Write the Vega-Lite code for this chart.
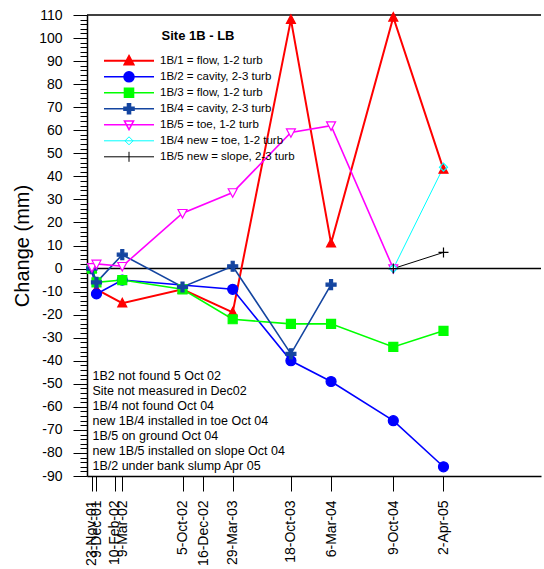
{
  "$schema": "https://vega.github.io/schema/vega-lite/v6.json",
  "width": 454,
  "height": 461,
  "padding": {"left": 12, "top": 8, "right": 0, "bottom": 0},
  "config": {
    "view": {"stroke": null},
    "font": "Liberation Sans",
    "axis": {"grid": false, "labelOverlap": false, "labelBound": false, "labelFlush": false, "tickColor": "black", "domainColor": "black", "domainWidth": 1.5, "labelColor": "black", "titleColor": "black"}
  },
  "datasets": {
    "obs": [
      {"series": "1B/1 = flow, 1-2 turb", "date": "2001-11-23", "change": 0},
      {"series": "1B/1 = flow, 1-2 turb", "date": "2001-12-09", "change": -9},
      {"series": "1B/1 = flow, 1-2 turb", "date": "2002-03-09", "change": -15},
      {"series": "1B/1 = flow, 1-2 turb", "date": "2002-10-05", "change": -9},
      {"series": "1B/1 = flow, 1-2 turb", "date": "2003-03-29", "change": -19},
      {"series": "1B/1 = flow, 1-2 turb", "date": "2003-10-18", "change": 108},
      {"series": "1B/1 = flow, 1-2 turb", "date": "2004-03-06", "change": 11},
      {"series": "1B/1 = flow, 1-2 turb", "date": "2004-10-09", "change": 109},
      {"series": "1B/1 = flow, 1-2 turb", "date": "2005-04-02", "change": 43},
      {"series": "1B/2 = cavity, 2-3 turb", "date": "2001-11-23", "change": 0},
      {"series": "1B/2 = cavity, 2-3 turb", "date": "2001-12-09", "change": -11},
      {"series": "1B/2 = cavity, 2-3 turb", "date": "2002-03-09", "change": -5},
      {"series": "1B/2 = cavity, 2-3 turb", "date": "2003-03-29", "change": -9},
      {"series": "1B/2 = cavity, 2-3 turb", "date": "2003-10-18", "change": -40},
      {"series": "1B/2 = cavity, 2-3 turb", "date": "2004-03-06", "change": -49},
      {"series": "1B/2 = cavity, 2-3 turb", "date": "2004-10-09", "change": -66},
      {"series": "1B/2 = cavity, 2-3 turb", "date": "2005-04-02", "change": -86},
      {"series": "1B/3 = flow, 1-2 turb", "date": "2001-11-23", "change": 0},
      {"series": "1B/3 = flow, 1-2 turb", "date": "2001-12-09", "change": -6},
      {"series": "1B/3 = flow, 1-2 turb", "date": "2002-03-09", "change": -5},
      {"series": "1B/3 = flow, 1-2 turb", "date": "2002-10-05", "change": -9},
      {"series": "1B/3 = flow, 1-2 turb", "date": "2003-03-29", "change": -22},
      {"series": "1B/3 = flow, 1-2 turb", "date": "2003-10-18", "change": -24},
      {"series": "1B/3 = flow, 1-2 turb", "date": "2004-03-06", "change": -24},
      {"series": "1B/3 = flow, 1-2 turb", "date": "2004-10-09", "change": -34},
      {"series": "1B/3 = flow, 1-2 turb", "date": "2005-04-02", "change": -27},
      {"series": "1B/4 = cavity, 2-3 turb", "date": "2001-11-23", "change": 0},
      {"series": "1B/4 = cavity, 2-3 turb", "date": "2001-12-09", "change": -6},
      {"series": "1B/4 = cavity, 2-3 turb", "date": "2002-03-09", "change": 6},
      {"series": "1B/4 = cavity, 2-3 turb", "date": "2002-10-05", "change": -8},
      {"series": "1B/4 = cavity, 2-3 turb", "date": "2003-03-29", "change": 1},
      {"series": "1B/4 = cavity, 2-3 turb", "date": "2003-10-18", "change": -37},
      {"series": "1B/4 = cavity, 2-3 turb", "date": "2004-03-06", "change": -7},
      {"series": "1B/5 = toe, 1-2 turb", "date": "2001-11-23", "change": 0.5},
      {"series": "1B/5 = toe, 1-2 turb", "date": "2001-12-09", "change": 2},
      {"series": "1B/5 = toe, 1-2 turb", "date": "2002-03-09", "change": 1},
      {"series": "1B/5 = toe, 1-2 turb", "date": "2002-10-05", "change": 24},
      {"series": "1B/5 = toe, 1-2 turb", "date": "2003-03-29", "change": 33},
      {"series": "1B/5 = toe, 1-2 turb", "date": "2003-10-18", "change": 59},
      {"series": "1B/5 = toe, 1-2 turb", "date": "2004-03-06", "change": 62},
      {"series": "1B/5 = toe, 1-2 turb", "date": "2004-10-09", "change": 0},
      {"series": "1B/4 new = toe, 1-2 turb", "date": "2004-10-09", "change": 0},
      {"series": "1B/4 new = toe, 1-2 turb", "date": "2005-04-02", "change": 44},
      {"series": "1B/5 new = slope, 2-3 turb", "date": "2004-10-09", "change": 0},
      {"series": "1B/5 new = slope, 2-3 turb", "date": "2005-04-02", "change": 7}
    ]
  },
  "layer": [
    {
      "data": {"values": [{}]},
      "mark": {"type": "rule", "color": "black", "strokeWidth": 1.5},
      "encoding": {"y": {"datum": 110, "type": "quantitative", "scale": {"domain": [-90, 110], "nice": false, "zero": false},
        "axis": {"title": "Change (mm)", "titleFontSize": 20, "titleFontWeight": "normal", "titlePadding": 6, "tickCount": 100, "labelExpr": "datum.value % 10 === 0 ? '' + datum.value : ''", "labelFontSize": 14, "labelPadding": 11, "tickSize": {"condition": {"test": "datum.value % 10 === 0", "value": 14}, "value": 7}}}}
    },
    {
      "data": {"values": [{}]},
      "mark": {"type": "rule", "color": "black", "strokeWidth": 1.5},
      "encoding": {"y": {"datum": 0, "type": "quantitative", "scale": {"domain": [-90, 110], "nice": false, "zero": false},
        "axis": {"title": "Change (mm)", "titleFontSize": 20, "titleFontWeight": "normal", "titlePadding": 6, "tickCount": 100, "labelExpr": "datum.value % 10 === 0 ? '' + datum.value : ''", "labelFontSize": 14, "labelPadding": 11, "tickSize": {"condition": {"test": "datum.value % 10 === 0", "value": 14}, "value": 7}}}}
    },
    {
      "data": {"values": [{}]},
      "mark": {"type": "text", "align": "left", "baseline": "top", "fontSize": 12.5, "lineHeight": 15, "color": "black"},
      "encoding": {
        "x": {"datum": {"year": 2001, "month": 11, "date": 25, "utc": true}, "type": "temporal",
          "scale": {"type": "utc", "domain": [{"year": 2001, "month": 11, "date": 6, "utc": true}, {"year": 2006, "month": 3, "date": 8, "utc": true}]},
          "axis": {
            "title": null,
            "values": [
              {"year": 2001, "month": 11, "date": 23, "utc": true},
              {"year": 2001, "month": 12, "date": 9, "utc": true},
              {"year": 2002, "month": 2, "date": 10, "utc": true},
              {"year": 2002, "month": 3, "date": 9, "utc": true},
              {"year": 2002, "month": 10, "date": 5, "utc": true},
              {"year": 2002, "month": 12, "date": 16, "utc": true},
              {"year": 2003, "month": 3, "date": 29, "utc": true},
              {"year": 2003, "month": 10, "date": 18, "utc": true},
              {"year": 2004, "month": 3, "date": 6, "utc": true},
              {"year": 2004, "month": 10, "date": 9, "utc": true},
              {"year": 2005, "month": 4, "date": 2, "utc": true}
            ],
            "format": "%-d-%b-%y", "labelAngle": -90, "labelFontSize": 14, "labelPadding": 9, "tickSize": 15
          }},
        "y": {"datum": -44.2, "type": "quantitative", "scale": {"domain": [-90, 110], "nice": false, "zero": false},
          "axis": {"title": "Change (mm)", "titleFontSize": 20, "titleFontWeight": "normal", "titlePadding": 6, "tickCount": 100, "labelExpr": "datum.value % 10 === 0 ? '' + datum.value : ''", "labelFontSize": 14, "labelPadding": 11, "tickSize": {"condition": {"test": "datum.value % 10 === 0", "value": 14}, "value": 7}}},
        "text": {"value": ["1B2 not found 5 Oct 02", "Site not measured in Dec02", "1B/4 not found Oct 04", "new 1B/4 installed in toe Oct 04", "1B/5 on ground Oct 04", "new 1B/5 installed on slope Oct 04", "1B/2 under bank slump Apr 05"]}
      }
    },
    {
      "data": {"name": "obs"},
      "encoding": {
        "x": {
          "field": "date", "type": "temporal",
          "scale": {"type": "utc", "domain": [{"year": 2001, "month": 11, "date": 6, "utc": true}, {"year": 2006, "month": 3, "date": 8, "utc": true}]},
          "axis": {
            "title": null,
            "values": [
              {"year": 2001, "month": 11, "date": 23, "utc": true},
              {"year": 2001, "month": 12, "date": 9, "utc": true},
              {"year": 2002, "month": 2, "date": 10, "utc": true},
              {"year": 2002, "month": 3, "date": 9, "utc": true},
              {"year": 2002, "month": 10, "date": 5, "utc": true},
              {"year": 2002, "month": 12, "date": 16, "utc": true},
              {"year": 2003, "month": 3, "date": 29, "utc": true},
              {"year": 2003, "month": 10, "date": 18, "utc": true},
              {"year": 2004, "month": 3, "date": 6, "utc": true},
              {"year": 2004, "month": 10, "date": 9, "utc": true},
              {"year": 2005, "month": 4, "date": 2, "utc": true}
            ],
            "format": "%-d-%b-%y", "labelAngle": -90, "labelFontSize": 14, "labelPadding": 9, "tickSize": 15
          }
        },
        "y": {
          "field": "change", "type": "quantitative",
          "scale": {"domain": [-90, 110], "nice": false, "zero": false},
          "axis": {"title": "Change (mm)", "titleFontSize": 20, "titleFontWeight": "normal", "titlePadding": 6, "tickCount": 100, "labelExpr": "datum.value % 10 === 0 ? '' + datum.value : ''", "labelFontSize": 14, "labelPadding": 11, "tickSize": {"condition": {"test": "datum.value % 10 === 0", "value": 14}, "value": 7}}
        },
        "color": {
          "field": "series", "type": "nominal",
          "scale": {
            "domain": ["1B/1 = flow, 1-2 turb", "1B/2 = cavity, 2-3 turb", "1B/3 = flow, 1-2 turb", "1B/4 = cavity, 2-3 turb", "1B/5 = toe, 1-2 turb", "1B/4 new = toe, 1-2 turb", "1B/5 new = slope, 2-3 turb"],
            "range": ["#ff0000", "#0000ff", "#00ff00", "#1445a0", "#ff00ff", "#00ffff", "#000000"]
          },
          "legend": {
            "title": "Site 1B - LB",
            "orient": "top-left",
            "offset": 15,
            "padding": 0,
            "titleFontSize": 13,
            "titleFontWeight": "bold",
            "titleColor": "black",
            "titleAnchor": "middle",
            "titlePadding": 10,
            "labelFontSize": 11.5,
            "labelColor": "black",
            "labelOffset": 45,
            "symbolOffset": 20,
            "symbolSize": 100,
            "symbolStrokeWidth": 2,
            "rowPadding": 0,
            "clipHeight": 15.6,
            "encode": {
              "symbols": {
                "update": {
                  "shape": {"signal": "['M0.4,0H10.4M5.4,-0.95L6.3,0.75L4.5,0.75Z', 'M0.4,0H10.4M4.4,0A1,1 0 1,0 6.4,0A1,1 0 1,0 4.4,0Z', 'M0.4,0H10.4M4.5,-0.9H6.3V0.9H4.5Z', 'M0.4,0H10.4M5.1,-1H5.7V-0.3H6.4V0.3H5.7V1H5.1V0.3H4.4V-0.3H5.1Z', 'M0.4,0H10.4M4.5,-0.75H6.3L5.4,0.95Z', 'M0.4,0H10.4M5.4,-0.8L6.2,0L5.4,0.8L4.6,0Z', 'M0.4,0H10.4M5.4,-1V1'][indexof(domain('color'), datum.value)]"},
                  "fill": {"signal": "scale('fill', datum.value)"},
                  "strokeWidth": {"signal": "scale('strokeWidth', datum.value)"},
                  "size": {"value": 100},
                  "opacity": {"value": 1}
                }
              },
              "labels": {
                "update": {
                  "dx": {"value": 58}
                }
              }
            }
          }
        }
      },
      "layer": [
        {
          "mark": {"type": "line"},
          "encoding": {
            "strokeWidth": {
              "field": "series", "type": "nominal",
              "scale": {
                "type": "ordinal",
                "range": [2, 1.6, 1.6, 1.6, 1, 1.6, 1]
              },
              "legend": null
            }
          }
        },
        {
          "mark": {"type": "point", "filled": false, "size": 100, "strokeWidth": 1.2, "opacity": 1},
          "encoding": {
            "shape": {
              "field": "series", "type": "nominal",
              "scale": {
                "range": [
                  "M0,-0.95L0.9,0.75L-0.9,0.75Z",
                  "M-1,0A1,1 0 1,0 1,0A1,1 0 1,0 -1,0Z",
                  "M-0.9,-0.9H0.9V0.9H-0.9Z",
                  "M-0.3,-1H0.3V-0.3H1V0.3H0.3V1H-0.3V0.3H-1V-0.3H-0.3Z",
                  "M0,-0.8L0.8,0L0,0.8L-0.8,0Z",
                  "M-0.9,-0.75H0.9L0,0.95Z",
                  "M-1,0H1M0,-1V1"
                ]
              },
              "legend": null
            },
            "fill": {
              "field": "series", "type": "nominal",
              "scale": {
                "range": ["#ff0000", "#0000ff", "#00ff00", "#1445a0", "transparent", "#ffffff", "transparent"]
              },
              "legend": null
            }
          }
        }
      ]
    }
  ]
}
